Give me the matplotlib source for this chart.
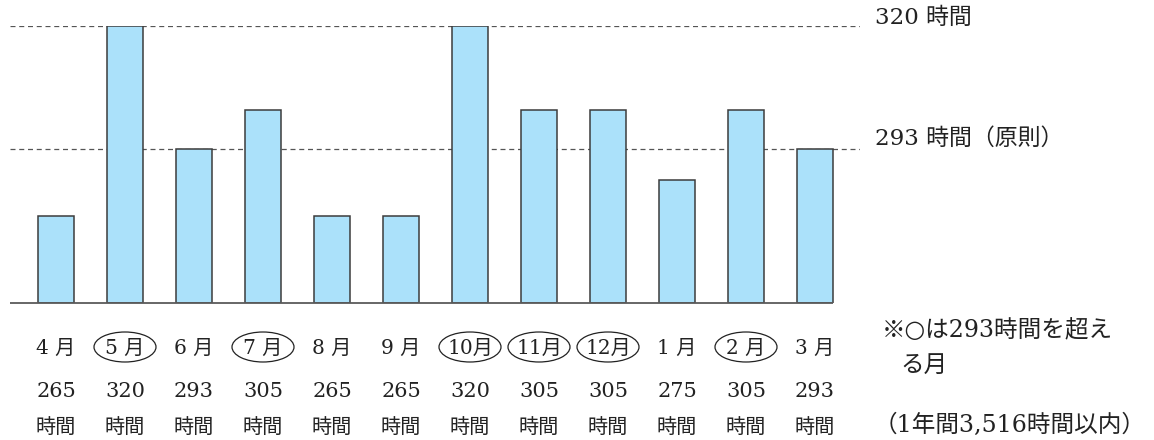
import numpy as np
import matplotlib
matplotlib.use("Agg")
import matplotlib.pyplot as plt
from matplotlib.patches import Ellipse
from matplotlib.transforms import blended_transform_factory

# Monthly overtime hours (April to March)
months = ["4 月", "5 月", "6 月", "7 月", "8 月", "9 月",
          "10月", "11月", "12月", "1 月", "2 月", "3 月"]
hours = [265, 320, 293, 305, 265, 265, 320, 305, 305, 275, 305, 293]
limit_principle = 293
limit_max = 320
ref_labels = ["320 時間", "293 時間（原則）"]
note_lines = ["※○は293時間を超え", "る月", "（1年間3,516時間以内）"]

FONT = ["DejaVu Serif", "Noto Sans CJK JP"]
TXT = "#222222"

W, H = 1154, 440
fig = plt.figure(figsize=(W / 100, H / 100), dpi=100)

# axes spans the bar area: baseline at px 303, 320h line at px 26
ax_left, ax_right = 10, 860
ax_bottom, ax_top = 303, 26.3
ax = fig.add_axes([ax_left / W, 1 - ax_bottom / H,
                   (ax_right - ax_left) / W, (ax_bottom - ax_top) / H])

# schematic (non-linear) vertical scale used by the illustration
knot_val = np.array([0, 265, 275, 293, 305, 320], dtype=float)
knot_pos = np.array([0, 87.5, 122.5, 153.7, 193.3, 276.7])


def fwd(v):
    return np.interp(v, knot_val, knot_pos)


def inv(p):
    return np.interp(p, knot_pos, knot_val)


ax.set_yscale("function", functions=(fwd, inv))
ax.set_ylim(0, 320)

step = 69.0
c0 = 56.0
x = np.arange(len(hours))
xl = (ax_left - c0) / step
xr = (ax_right - c0) / step
ax.set_xlim(xl, xr)

bw = 36 / step
ax.hlines([limit_max, limit_principle], xl, xr, colors="#555555",
          linewidth=0.9, linestyles=(0, (4.0, 3.0)), zorder=1)
ax.bar(x, hours, width=bw, color="#ABE1FA", edgecolor="#3c3c3c",
       linewidth=1.1, zorder=2)
ax.hlines(0, xl, x[-1] + bw / 2, colors="#5a5a5a", linewidth=1.3,
          zorder=3, clip_on=False)

for s in ax.spines.values():
    s.set_visible(False)
ax.set_xticks([])
ax.set_yticks([])
ax.minorticks_off()

# labels under the bars: month (circled when above the 293h rule), hours
bt = blended_transform_factory(ax.transData, fig.transFigure)
for xi, m, h in zip(x, months, hours):
    ax.text(xi, 1 - 348 / H, m, transform=bt, ha="center", va="center",
            fontsize=14.5, family=FONT, color=TXT, clip_on=False)
    ax.text(xi, 1 - 391 / H, str(h), transform=bt, ha="center",
            va="center", fontsize=15, family=FONT, color=TXT, clip_on=False)
    ax.text(xi, 1 - 427 / H, "時間", transform=bt, ha="center",
            va="center", fontsize=14.5, family=FONT, color=TXT, clip_on=False)
    if h > limit_principle:
        e = Ellipse((xi, 1 - 347 / H), 62 / step, 30 / H, transform=bt,
                    fill=False, edgecolor="#222222", linewidth=0.9,
                    clip_on=False)
        ax.add_patch(e)

# reference line labels on the right
fig.text(875 / W, 1 - 18 / H, ref_labels[0], ha="left", va="center",
         fontsize=16.5, family=FONT, color=TXT)
fig.text(875 / W, 1 - 139 / H, ref_labels[1], ha="left", va="center",
         fontsize=16.5, family=FONT, color=TXT)

# footnote
fig.text(882 / W, 1 - 330 / H, note_lines[0], ha="left", va="center",
         fontsize=17, family=FONT, color=TXT)
fig.text(900 / W, 1 - 365 / H, note_lines[1], ha="left", va="center",
         fontsize=17, family=FONT, color=TXT)
fig.text(874 / W, 1 - 425 / H, note_lines[2], ha="left", va="center",
         fontsize=17, family=FONT, color=TXT)

fig.savefig("out.png", dpi=100, facecolor="white")
